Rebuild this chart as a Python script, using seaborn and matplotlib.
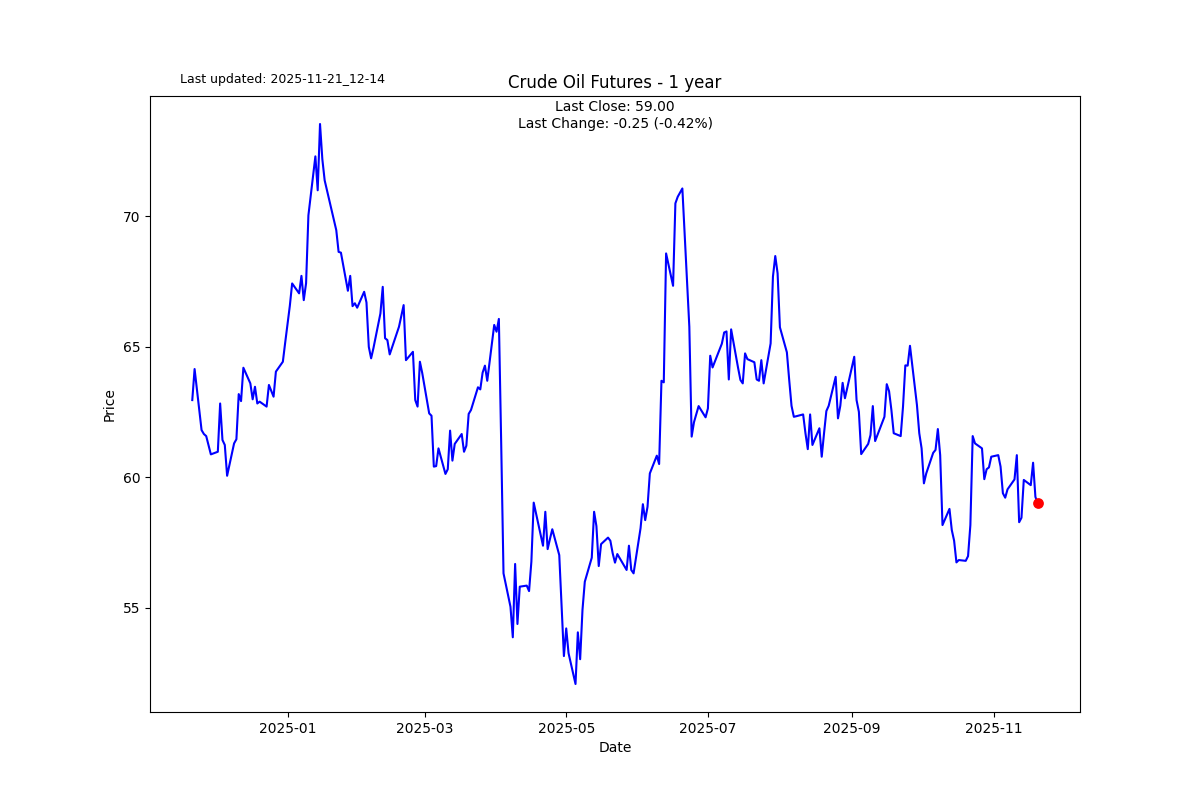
import matplotlib
matplotlib.use("Agg")
import matplotlib.pyplot as plt
import seaborn as sns
import pandas as pd

dates = [
    "2024-11-21", "2024-11-22", "2024-11-25", "2024-11-26", "2024-11-27", "2024-11-29",
    "2024-12-02", "2024-12-03", "2024-12-04", "2024-12-05", "2024-12-06",
    "2024-12-09", "2024-12-10", "2024-12-11", "2024-12-12", "2024-12-13",
    "2024-12-16", "2024-12-17", "2024-12-18", "2024-12-19", "2024-12-20",
    "2024-12-23", "2024-12-24", "2024-12-26", "2024-12-27",
    "2024-12-30", "2024-12-31", "2025-01-02", "2025-01-03",
    "2025-01-06", "2025-01-07", "2025-01-08", "2025-01-09", "2025-01-10",
    "2025-01-13", "2025-01-14", "2025-01-15", "2025-01-16", "2025-01-17",
    "2025-01-21", "2025-01-22", "2025-01-23", "2025-01-24",
    "2025-01-27", "2025-01-28", "2025-01-29", "2025-01-30", "2025-01-31",
    "2025-02-03", "2025-02-04", "2025-02-05", "2025-02-06", "2025-02-07",
    "2025-02-10", "2025-02-11", "2025-02-12", "2025-02-13", "2025-02-14",
    "2025-02-18", "2025-02-19", "2025-02-20", "2025-02-21",
    "2025-02-24", "2025-02-25", "2025-02-26", "2025-02-27", "2025-02-28",
    "2025-03-03", "2025-03-04", "2025-03-05", "2025-03-06", "2025-03-07",
    "2025-03-10", "2025-03-11", "2025-03-12", "2025-03-13", "2025-03-14",
    "2025-03-17", "2025-03-18", "2025-03-19", "2025-03-20", "2025-03-21",
    "2025-03-24", "2025-03-25", "2025-03-26", "2025-03-27", "2025-03-28",
    "2025-03-31", "2025-04-01", "2025-04-02", "2025-04-03", "2025-04-04",
    "2025-04-07", "2025-04-08", "2025-04-09", "2025-04-10", "2025-04-11",
    "2025-04-14", "2025-04-15", "2025-04-16", "2025-04-17",
    "2025-04-21", "2025-04-22", "2025-04-23", "2025-04-24", "2025-04-25",
    "2025-04-28", "2025-04-29", "2025-04-30", "2025-05-01", "2025-05-02",
    "2025-05-05", "2025-05-06", "2025-05-07", "2025-05-08", "2025-05-09",
    "2025-05-12", "2025-05-13", "2025-05-14", "2025-05-15", "2025-05-16",
    "2025-05-19", "2025-05-20", "2025-05-21", "2025-05-22", "2025-05-23",
    "2025-05-27", "2025-05-28", "2025-05-29", "2025-05-30",
    "2025-06-02", "2025-06-03", "2025-06-04", "2025-06-05", "2025-06-06",
    "2025-06-09", "2025-06-10", "2025-06-11", "2025-06-12", "2025-06-13",
    "2025-06-16", "2025-06-17", "2025-06-18", "2025-06-20",
    "2025-06-23", "2025-06-24", "2025-06-25", "2025-06-26", "2025-06-27",
    "2025-06-30", "2025-07-01", "2025-07-02", "2025-07-03",
    "2025-07-07", "2025-07-08", "2025-07-09", "2025-07-10", "2025-07-11",
    "2025-07-14", "2025-07-15", "2025-07-16", "2025-07-17", "2025-07-18",
    "2025-07-21", "2025-07-22", "2025-07-23", "2025-07-24", "2025-07-25",
    "2025-07-28", "2025-07-29", "2025-07-30", "2025-07-31", "2025-08-01",
    "2025-08-04", "2025-08-05", "2025-08-06", "2025-08-07", "2025-08-08",
    "2025-08-11", "2025-08-12", "2025-08-13", "2025-08-14", "2025-08-15",
    "2025-08-18", "2025-08-19", "2025-08-20", "2025-08-21", "2025-08-22",
    "2025-08-25", "2025-08-26", "2025-08-27", "2025-08-28", "2025-08-29",
    "2025-09-02", "2025-09-03", "2025-09-04", "2025-09-05",
    "2025-09-08", "2025-09-09", "2025-09-10", "2025-09-11", "2025-09-12",
    "2025-09-15", "2025-09-16", "2025-09-17", "2025-09-18", "2025-09-19",
    "2025-09-22", "2025-09-23", "2025-09-24", "2025-09-25", "2025-09-26",
    "2025-09-29", "2025-09-30", "2025-10-01", "2025-10-02", "2025-10-03",
    "2025-10-06", "2025-10-07", "2025-10-08", "2025-10-09", "2025-10-10",
    "2025-10-13", "2025-10-14", "2025-10-15", "2025-10-16", "2025-10-17",
    "2025-10-20", "2025-10-21", "2025-10-22", "2025-10-23", "2025-10-24",
    "2025-10-27", "2025-10-28", "2025-10-29", "2025-10-30", "2025-10-31",
    "2025-11-03", "2025-11-04", "2025-11-05", "2025-11-06", "2025-11-07",
    "2025-11-10", "2025-11-11", "2025-11-12", "2025-11-13", "2025-11-14",
    "2025-11-17", "2025-11-18", "2025-11-19", "2025-11-20",
]

prices = [
    62.96, 64.15, 61.81, 61.66, 61.58, 60.88,
    60.98, 62.83, 61.43, 61.24, 60.06,
    61.30, 61.46, 63.19, 62.92, 64.20,
    63.60, 62.99, 63.47, 62.83, 62.90,
    62.71, 63.54, 63.09, 64.05,
    64.43, 65.16, 66.57, 67.43,
    67.05, 67.72, 66.79, 67.44, 70.04,
    72.30, 71.00, 73.54, 72.19, 71.38,
    69.86, 69.47, 68.64, 68.61,
    67.15, 67.72, 66.56, 66.67, 66.50,
    67.11, 66.70, 65.00, 64.56, 64.95,
    66.28, 67.30, 65.33, 65.26, 64.71,
    65.77, 66.19, 66.60, 64.49,
    64.81, 62.96, 62.71, 64.43, 64.00,
    62.45, 62.36, 60.41, 60.43, 61.11,
    60.13, 60.31, 61.79, 60.64, 61.28,
    61.66, 60.98, 61.21, 62.43, 62.58,
    63.45, 63.37, 64.01, 64.28, 63.70,
    65.84, 65.58, 66.07, 61.31, 56.32,
    55.04, 53.87, 56.68, 54.38, 55.81,
    55.85, 55.64, 56.77, 59.03,
    57.38, 58.68, 57.25, 57.64, 58.01,
    57.02, 55.09, 53.15, 54.21, 53.26,
    52.08, 54.06, 53.03, 54.92, 56.00,
    56.92, 58.68, 58.13, 56.60, 57.44,
    57.69, 57.57, 57.09, 56.73, 57.06,
    56.45, 57.38, 56.45, 56.32,
    58.05, 58.97, 58.36, 58.87, 60.15,
    60.83, 60.51, 63.70, 63.64, 68.58,
    67.34, 70.50, 70.75, 71.07,
    65.77, 61.56, 62.11, 62.42, 62.73,
    62.30, 62.64, 64.66, 64.21,
    65.12, 65.55, 65.59, 63.75, 65.67,
    64.19, 63.73, 63.60, 64.75, 64.53,
    64.41, 63.75, 63.70, 64.49, 63.60,
    65.13, 67.69, 68.48, 67.82, 65.75,
    64.79, 63.73, 62.74, 62.32, 62.34,
    62.41, 61.69, 61.08, 62.41, 61.24,
    61.88, 60.79, 61.69, 62.54, 62.74,
    63.85, 62.26, 62.74, 63.62, 63.03,
    64.62, 62.96, 62.51, 60.89,
    61.28, 61.62, 62.73, 61.39, 61.62,
    62.32, 63.57, 63.30, 62.58, 61.69,
    61.58, 62.71, 64.29, 64.28, 65.04,
    62.77, 61.69, 61.11, 59.77, 60.15,
    60.94, 61.05, 61.85, 60.85, 58.17,
    58.79, 57.98, 57.57, 56.74, 56.83,
    56.80, 56.98, 58.17, 61.58, 61.30,
    61.11, 59.93, 60.31, 60.38, 60.79,
    60.85, 60.41, 59.39, 59.22, 59.54,
    59.92, 60.85, 58.28, 58.45, 59.90,
    59.70, 60.56, 59.25, 59.00,
]

title = "Crude Oil Futures - 1 year"
updated_label = "Last updated: 2025-11-21_12-14"
close_label = "Last Close: 59.00"
change_label = "Last Change: -0.25 (-0.42%)"

df = pd.DataFrame({"Date": pd.to_datetime(dates), "Price": prices})

fig, ax = plt.subplots(figsize=(12, 8), dpi=100)
sns.lineplot(data=df, x="Date", y="Price", color="blue", linewidth=1.5, ax=ax)
last = df.iloc[[-1]]
sns.scatterplot(data=last, x="Date", y="Price", color="red", s=60,
                edgecolor="red", linewidth=0, zorder=5, ax=ax)

ax.set_title(title, fontsize=12)
ax.set_xlabel("Date")
ax.set_ylabel("Price")
ax.text(0.5, 0.993, close_label + "\n" + change_label, transform=ax.transAxes,
        ha="center", va="top", multialignment="center", fontsize=10)
fig.text(0.15, 0.896, updated_label, fontsize=9)

fig.savefig("out.png", dpi=100)
